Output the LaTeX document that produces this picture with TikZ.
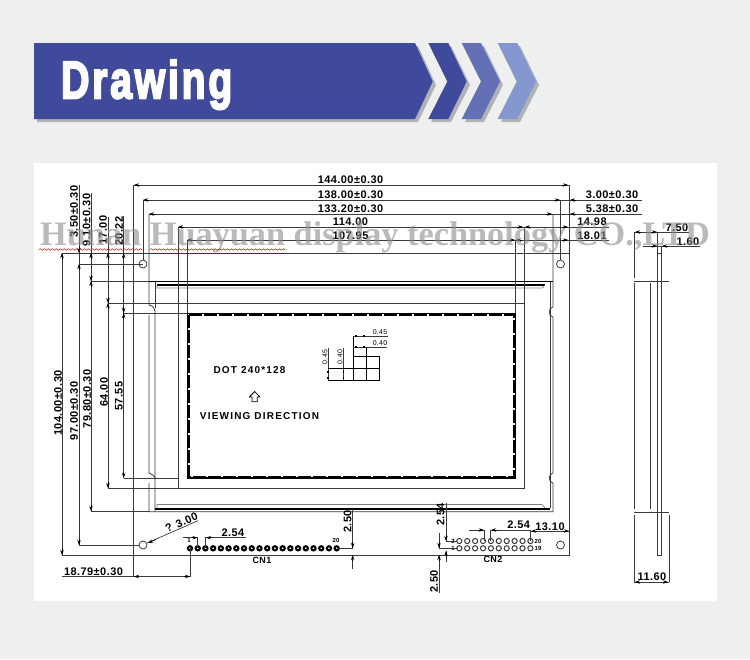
\documentclass[tikz,border=0pt]{standalone}
\usepackage{fontspec}
\usetikzlibrary{arrows.meta, decorations.pathmorphing}
\newfontfamily\dimfont[LetterSpace=4]{Liberation Sans}
\newfontfamily\labelfont[LetterSpace=12]{Liberation Sans}
\newfontfamily\titlefont[LetterSpace=7,FakeBold=4]{Liberation Sans}
\newfontfamily\markfont{Liberation Serif}
\definecolor{pagebg}{HTML}{EEEFEF}
\definecolor{bandA}{HTML}{3F4A9C}
\definecolor{bandB}{HTML}{6370B5}
\definecolor{bandC}{HTML}{8597CF}
\definecolor{inkline}{HTML}{3A3A3A}
\tikzset{
  part/.style={draw=inkline, line width=.8pt},
  dimline/.style={draw=inkline, line width=.7pt},
  tip/.style={black, line width=.6pt, -{Stealth[length=5pt,width=3.4pt]}},
  dimtext/.style={font=\dimfont\bfseries\fontsize{11}{12}\selectfont, inner sep=0pt},
  tinytext/.style={font=\dimfont\bfseries\fontsize{6}{7}\selectfont, inner sep=0pt},
  labeltext/.style={font=\labelfont\bfseries\fontsize{10}{11}\selectfont, inner sep=0pt},
  celltext/.style={font=\dimfont\fontsize{7}{8}\selectfont, inner sep=0pt},
  shadowband/.style={fill=black!30, draw=none},
}

\begin{document}
\begin{tikzpicture}[x=1pt,y=-1pt]
  \useasboundingbox (0,0) rectangle (750,659);
  \fill[pagebg] (0,0) rectangle (750,659);
  \fill[white] (34,163) rectangle (717,601);

  % banner
  \path[shadowband] (37,46) -- (418,46) -- (436,85) -- (418,122) -- (37,122) -- cycle;
  \path[shadowband] (431,46) -- (451,46) -- (470,85) -- (451,122) -- (431,122) -- (450,85) -- cycle;
  \path[shadowband] (465,46) -- (484,46) -- (503,85) -- (484,122) -- (465,122) -- (484,85) -- cycle;
  \path[shadowband] (501,46) -- (520,46) -- (539,85) -- (520,122) -- (501,122) -- (520,85) -- cycle;
  \fill[bandA] (34,43) -- (415,43) -- (432.7,81.5) -- (415,119) -- (34,119) -- cycle;
  \fill[bandA] (428.3,43) -- (448.3,43) -- (466.7,81.5) -- (448.3,119) -- (428.3,119) -- (447.3,81.5) -- cycle;
  \fill[bandB] (461.7,43) -- (481,43) -- (500,81.5) -- (481,119) -- (461.7,119) -- (481,81.5) -- cycle;
  \fill[bandC] (497.7,43) -- (517.3,43) -- (536,81.5) -- (517.3,119) -- (497.7,119) -- (516.7,81.5) -- cycle;
  \node[anchor=base west, inner sep=0pt, white, xscale=.74, font=\titlefont\bfseries\fontsize{53}{55}\selectfont] (title) at (61,98.3) {Drawing};

  % board and frame
  \draw[part] (133,253) rectangle (569,555);
  \foreach \hx/\hy in {143/264, 560.5/264, 143/545, 560.5/545}
    \draw[part, fill=white] (\hx,\hy) circle[radius=4];
  \draw[part] (149,214) -- (149,305) .. controls (153,306) and (155,308) .. (155,311) -- (155,511.7);
  \draw[part] (155,281) -- (155,308);
  \draw[part] (149,315) -- (149,473) .. controls (152,474) and (155,476) .. (155,479);
  \draw[part] (149,483) -- (149,511.7) -- (553,511.7) -- (553,483) .. controls (548,482) and (548,474) .. (553,473) -- (553,317) .. controls (548,316) and (548,308) .. (553,307) -- (553,214);
  \draw[part] (550,281) -- (550,508);
  \draw[draw=black, line width=1pt] (149,281) -- (553,281);
  \draw[draw=black, line width=1.3pt] (157,285) -- (545,285);
  \draw[draw=black!50, line width=.7pt] (157,285) -- (157,288) -- (542,288) -- (545,285);
  \draw[draw=black!50, line width=.7pt] (157,508) -- (157,504.5) -- (542,504.5) -- (545,508);
  \draw[draw=black, line width=1.6pt] (155,509) -- (550,509);

  % viewing and active area
  \draw[part] (178,227) -- (178,488) -- (524,488) -- (524,227);
  \draw[part] (108,303) -- (524,303);
  \draw[draw=black, line width=1.5pt] (187.5,313.5) rectangle (515.5,478);
  \draw[draw=black, line width=1.5pt, dash pattern=on 13pt off 2pt] (189,315) rectangle (514,476.5);

  % dot detail
  \draw[part, line width=.7pt] (328,348) -- (328,380.7);
  \draw[part, line width=.7pt] (343.3,348) -- (343.3,380.7);
  \draw[draw=black, line width=.8pt] (328,368.3) -- (379.3,368.3);
  \draw[draw=black, line width=.8pt] (328,380.7) -- (379.3,380.7);
  \draw[draw=black, line width=.8pt] (353,356) -- (379.3,356) -- (379.3,380.7);
  \draw[draw=black, line width=.8pt] (353,336) -- (353,380.7);
  \draw[draw=black, line width=.8pt] (366.7,347) -- (366.7,380.7);
  \draw[dimline, line width=.5pt] (353,336) -- (388,336);
  \draw[dimline, line width=.5pt] (353,347) -- (387,347);
  \foreach \px/\py in {356/336, 364/336, 356/347, 364/347}
    \fill (\px-1,\py-.8) rectangle (\px+1,\py+.8);
  \foreach \px/\py in {328/372, 328/378, 343.3/372, 343.3/378}
    \fill (\px-.8,\py-1) rectangle (\px+.8,\py+1);
  \node[celltext] (pitchx) at (380,332) {0.45};
  \node[celltext] (sizex) at (380,343) {0.40};
  \node[celltext, rotate=90] (pitchy) at (325,357) {0.45};
  \node[celltext, rotate=90] (sizey) at (340,357) {0.40};
  \node[labeltext] (dots) at (249.5,370) {DOT 240*128};
  \draw[part, line join=round, draw=black] (254.7,391.5) -- (260,397) -- (257.3,397) -- (257.3,401.7) -- (252,401.7) -- (252,397) -- (249.3,397) -- cycle;
  \node[labeltext] (viewing) at (259.5,415.6) {VIEWING DIRECTION};

  % top dimensions
  \draw[dimline] (133,185) -- (569,185);
  \draw[dimline] (143,200) -- (642,200);
  \draw[dimline] (149,214) -- (642,214);
  \draw[dimline] (178,227) -- (609,227);
  \draw[dimline] (187,240) -- (609,240);
  \draw[part] (133,185) -- (133,577);
  \draw[part] (143,200) -- (143,260);
  \draw[part] (560.5,200) -- (560.5,260);
  \draw[part] (569,185) -- (569,253);
  \draw[part] (187,240) -- (187,313);
  \draw[part] (515,240) -- (515,313);
  \node[dimtext] (w144) at (350.5,180) {144.00±0.30};
  \node[dimtext] (w138) at (350.5,194.5) {138.00±0.30};
  \node[dimtext] (w133) at (350.5,209) {133.20±0.30};
  \node[dimtext] (w114) at (350.5,222) {114.00};
  \node[dimtext] (w107) at (350.5,235.5) {107.95};
  \node[dimtext] (r300) at (612,195) {3.00±0.30};
  \node[dimtext] (r538) at (612,209) {5.38±0.30};
  \node[dimtext] (r1498) at (592,222) {14.98};
  \node[dimtext] (r1801) at (592,235.5) {18.01};

  % left dimensions
  \draw[dimline] (79,185) -- (79,545);
  \draw[dimline] (62,253) -- (62,555);
  \draw[dimline] (91,193) -- (91,511.7);
  \draw[dimline] (108,217) -- (108,488);
  \draw[dimline] (123.7,216) -- (123.7,478);
  \draw[dimline] (62,253) -- (133,253);
  \draw[dimline] (79,264) -- (143,264);
  \draw[dimline] (91,281) -- (149,281);
  \draw[dimline] (123.7,313) -- (187,313);
  \draw[dimline] (123.7,478) -- (178,478);
  \draw[dimline] (108,488) -- (178,488);
  \draw[dimline] (91,511.7) -- (149,511.7);
  \draw[dimline] (79,545) -- (139,545);
  \draw[dimline] (62,555) -- (133,555);
  \node[dimtext, rotate=90] (t350) at (74,211.5) {3.50±0.30};
  \node[dimtext, rotate=90] (t910) at (86.5,220) {9.10±0.30};
  \node[dimtext, rotate=90] (t1700) at (103,230) {17.00};
  \node[dimtext, rotate=90] (t2022) at (119,231) {20.22};
  \node[dimtext, rotate=90] (h104) at (58,403) {104.00±0.30};
  \node[dimtext, rotate=90] (h97) at (74,411) {97.00±0.30};
  \node[dimtext, rotate=90] (h79) at (87,399) {79.80±0.30};
  \node[dimtext, rotate=90] (h64) at (104,392) {64.00};
  \node[dimtext, rotate=90] (h57) at (119,396) {57.55};

  % side view
  \draw[part] (634,232) -- (634,278);
  \draw[part] (634,283) -- (634,509);
  \draw[part] (634,515) -- (634,582);
  \draw[part] (650,283) -- (650,509);
  \draw[part] (657.3,232) -- (657.3,555) -- (661.7,555) -- (661.7,246);
  \draw[part] (657.3,253) -- (661.7,253);
  \draw[part] (669,515) -- (669,582);
  \draw[part, line width=1.2pt] (634,281.5) -- (669,281.5);
  \draw[part, line width=1.2pt] (634,512.7) -- (669,512.7);
  \draw[dimline] (634,232) -- (689,232);
  \draw[dimline] (643,246) -- (700,246);
  \draw[dimline] (634,582) -- (669,582);
  \node[dimtext] (s750) at (677,227.5) {7.50};
  \node[dimtext] (s160) at (688,241.5) {1.60};
  \node[dimtext] (s1160) at (652,577) {11.60};

  % connectors
  \foreach \n in {0,...,19}
    \draw[draw=black, line width=2.1pt, fill=white] ({190+\n*7.72},548.3) circle[radius=2.1];
  \foreach \n in {0,...,9} {
    \draw[part, line width=1pt, fill=white] ({459.3+\n*7.9},541) circle[radius=2.6];
    \draw[part, line width=1pt, fill=white] ({459.3+\n*7.9},548.3) circle[radius=2.6];
  }
  \node[tinytext] (cn1a) at (189,540.5) {1};
  \node[tinytext] (cn1b) at (336,540.5) {20};
  \node[tinytext] (cn2a) at (453,541) {2};
  \node[tinytext] (cn2b) at (453,548.3) {1};
  \node[tinytext] (cn2c) at (538,541) {20};
  \node[tinytext] (cn2d) at (538,548.3) {19};
  \node[dimtext, font=\dimfont\bfseries\fontsize{9}{10}\selectfont] (cnone) at (262,560) {CN1};
  \node[dimtext, font=\dimfont\bfseries\fontsize{9}{10}\selectfont] (cntwo) at (493,559.5) {CN2};

  % bottom dimensions
  \draw[dimline] (62,576.5) -- (190,576.5) -- (190,548.3);
  \node[dimtext] (b1879) at (93.5,571.5) {18.79±0.30};
  \draw[dimline] (183,537.7) -- (197.7,537.7) -- (197.7,548);
  \draw[dimline] (205.7,548) -- (205.7,537.7) -- (246,537.7);
  \node[dimtext] (b254a) at (233,533) {2.54};
  \draw[dimline] (198,520.7) -- (147,543);
  \node[dimtext, rotate=24] (dia) at (181.5,522.5) {? 3.00};
  \draw[dimline] (336.7,548.3) -- (352.7,548.3) -- (352.7,509);
  \draw[dimline] (352.7,555) -- (352.7,569);
  \node[dimtext, rotate=90] (b250a) at (347.5,521.5) {2.50};
  \draw[dimline] (446,503) -- (446,541) -- (457,541);
  \draw[dimline] (446,551) -- (446,562);
  \node[dimtext, rotate=90] (b254b) at (440.5,514.5) {2.54};
  \draw[dimline] (439,533) -- (439,548.3) -- (458,548.3);
  \draw[dimline] (439,555) -- (439,593);
  \node[dimtext, rotate=90] (b250b) at (434,581.5) {2.50};
  \draw[dimline] (469,530) -- (484.3,530) -- (484.3,541);
  \draw[dimline] (490.7,541) -- (490.7,530) -- (530.7,530) -- (530.7,541);
  \node[dimtext] (b254c) at (518.7,525) {2.54};
  \draw[dimline] (530.7,531) -- (569,531);
  \node[dimtext] (b1310) at (550,526.5) {13.10};

  % arrow tips, at the point they touch
  \foreach \tx/\ty in {568/185, 560/200, 552/214, 523/227, 568/227, 515/240, 568/240, 657/232, 657/246, 197.5/537.7, 484/530, 569/531}
    \draw[tip] ({\tx-6},\ty) -- (\tx,\ty);
  \foreach \tx/\ty in {134/185, 143/200, 149/214, 178/227, 525/227, 187/240, 516/240, 570/200, 570/214, 635/232, 662/246, 206/537.7, 491/530, 531/531}
    \draw[tip] ({\tx+6},\ty) -- (\tx,\ty);
  \foreach \tx/\ty in {62/253, 79/264, 91/253, 91/281, 108/253, 108/303, 123.7/253, 123.7/313, 352.7/555, 446/551, 439/555}
    \draw[tip] (\tx,{\ty+6}) -- (\tx,\ty);
  \foreach \tx/\ty in {62/555, 79/545, 79/253, 91/281, 91/511, 108/303, 108/488, 123.7/313, 123.7/478, 352.7/548, 446/541, 439/548}
    \draw[tip] (\tx,{\ty-6}) -- (\tx,\ty);
  \draw[tip] (139,576.5) -- (134,576.5);
  \draw[tip] (184,576.5) -- (190,576.5);
  \draw[tip] (156,539.5) -- (148,543);
  \draw[tip] (640,582) -- (635,582);
  \draw[tip] (663,582) -- (668,582);

  % watermark
  \node[anchor=base west, inner sep=0pt, black!45, opacity=.6, font=\markfont\bfseries\fontsize{34.3}{36}\selectfont] (mark) at (40,245) {Hunan Huayuan display technology CO.,LTD};
  \draw[red!80!black, line width=.5pt, decorate, decoration={snake, amplitude=.8pt, segment length=4pt}] (39,249.5) -- (142,249.5);
  \draw[red!80!black, line width=.5pt, decorate, decoration={snake, amplitude=.8pt, segment length=4pt}] (150,249.5) -- (285,249.5);
\end{tikzpicture}
\end{document}
